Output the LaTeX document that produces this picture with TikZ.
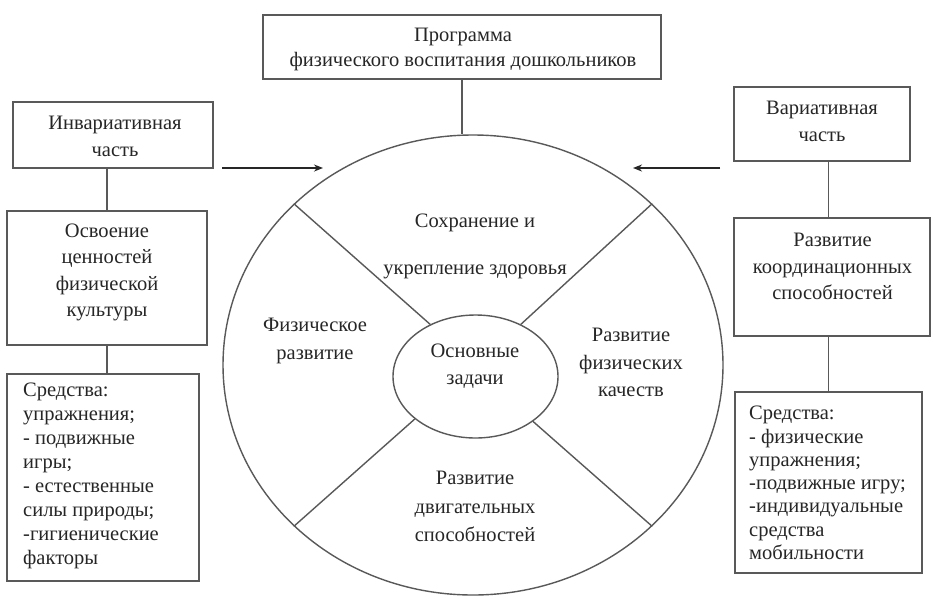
\documentclass[tikz,border=0pt]{standalone}
\usepackage{fontspec}
\setmainfont{Liberation Serif}
\usetikzlibrary{shapes.geometric,arrows.meta}
\begin{document}
\begin{tikzpicture}[x=1pt,y=-1pt,
  box/.style={draw=black!65,line width=1.4pt,inner sep=0pt,rectangle},
  ell/.style={draw=black!65,line width=1.4pt,inner sep=0pt,ellipse},
  conn/.style={draw=black!65,line width=1.4pt},
  arr/.style={draw=black!85,line width=1.5pt,-{Stealth[length=9pt,width=7pt]}},
  lbl/.style={text=black!85,align=center,inner sep=0pt,font=\fontsize{20.5}{27}\selectfont},
  lst/.style={text=black!85,align=left,inner sep=0pt,anchor=west}
]
\useasboundingbox (0,0) rectangle (950,611);
\fill[white] (0,0) rectangle (950,611);

% boxes
\node[box,minimum width=398pt,minimum height=64pt] (top) at (462,47) {};
\node[box,minimum width=200pt,minimum height=66pt] (lb1) at (113,135) {};
\node[box,minimum width=200pt,minimum height=134pt] (lb2) at (107,278) {};
\node[box,minimum width=192pt,minimum height=207pt] (lb3) at (103,477.5) {};
\node[box,minimum width=176pt,minimum height=74pt] (rb1) at (822,124) {};
\node[box,minimum width=196pt,minimum height=118pt] (rb2) at (832,277) {};
\node[box,minimum width=187pt,minimum height=181pt] (rb3) at (828.5,482.5) {};

% ellipses
\node[ell,minimum width=500pt,minimum height=460pt] (outer) at (473,365) {};
\node[ell,minimum width=165pt,minimum height=123pt] (inner) at (475.5,376.5) {};

% box texts
\node[lbl,font=\fontsize{20.5}{25}\selectfont] (ttop) at (463,49) {Программа\\физического воспитания дошкольников};
\node[lbl] (tlb1) at (115,136.5) {Инвариативная\\часть};
\node[lbl,font=\fontsize{20.5}{26.5}\selectfont] (tlb2) at (107,272.5) {Освоение\\ценностей\\физической\\культуры};
\node[lbl,lst,font=\fontsize{20.5}{24}\selectfont] (tlb3) at (23,476) {Средства:\\упражнения;\\- подвижные\\игры;\\- естественные\\силы природы;\\-гигиенические\\факторы};
\node[lbl] (trb1) at (822,121.5) {Вариативная\\часть};
\node[lbl,font=\fontsize{20.5}{26.5}\selectfont] (trb2) at (832.5,266.5) {Развитие\\координационных\\способностей};
\node[lbl,lst,font=\fontsize{20.5}{23.3}\selectfont] (trb3) at (749,483) {Средства:\\- физические\\упражнения;\\-подвижные игру;\\-индивидуальные\\средства\\мобильности};

% circle texts
\node[lbl,font=\fontsize{20.5}{47}\selectfont] (tc1) at (475,246.5) {Сохранение и\\укрепление здоровья};
\node[lbl,font=\fontsize{20.5}{28}\selectfont] (tc2) at (315,341) {Физическое\\развитие};
\node[lbl,font=\fontsize{20.5}{27.5}\selectfont] (tc3) at (631,362.5) {Развитие\\физических\\качеств};
\node[lbl,font=\fontsize{20.5}{28.5}\selectfont] (tc4) at (475,506.5) {Развитие\\двигательных\\способностей};
\node[lbl] (tc5) at (475,366.5) {Основные\\задачи};

% connectors
\draw[conn] (top.south) -- (top.south |- outer.north);
\draw[conn] (lb1.south -| lb2.north) -- (lb2.north);
\draw[conn] (lb2.south) -- (lb2.south |- lb3.north);
\draw[conn] (rb1.south -| rb3.north) -- (rb2.north -| rb3.north);
\draw[conn] (rb2.south -| rb3.north) -- (rb3.north);

\draw[conn] (outer.138) -- (inner.131);
\draw[conn] (outer.42) -- (inner.49);
\draw[conn] (outer.222) -- (inner.215);
\draw[conn] (outer.318) -- (inner.322);

% arrows
\coordinate (la0) at (222,168);
\coordinate (la1) at (323,168);
\coordinate (ra0) at (720,168);
\coordinate (ra1) at (633,168);
\draw[arr] (la0) -- (la1);
\draw[arr] (ra0) -- (ra1);
\end{tikzpicture}
\end{document}
